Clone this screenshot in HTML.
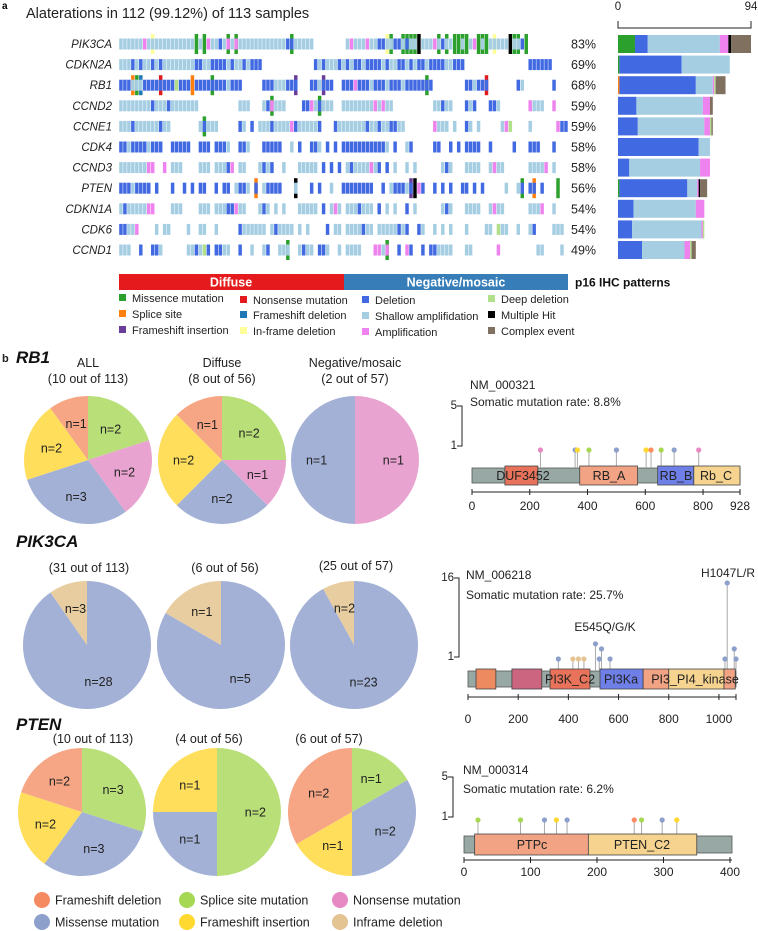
<!DOCTYPE html>
<html><head><meta charset="utf-8">
<style>
html,body{margin:0;padding:0;background:#fff;}
svg{display:block;font-family:"Liberation Sans",Arial,sans-serif;}
</style></head>
<body>
<svg id="fig" width="758" height="931" viewBox="0 0 758 931" xmlns="http://www.w3.org/2000/svg">
<text x="2" y="9" font-size="10" font-weight="bold">a</text>
<text x="26" y="18" font-size="14.5" fill="#222">Alaterations in 112 (99.12%) of 113 samples</text>
<g id="onco"></g>
<g id="bars"></g>
<g id="pies"></g>
<g id="lolli"></g>
</svg>
<script>
// ---------- Oncoprint data ----------
const genes = ['PIK3CA','CDKN2A','RB1','CCND2','CCNE1','CDK4','CCND3','PTEN','CDKN1A','CDK6','CCND1'];
const pcts = ['83%','69%','68%','59%','59%','58%','58%','56%','54%','54%','49%'];
const baseRows = [
 ["ssssssasss","sssssssss.","s.assdsasa","ssssssssss","ssddsssss.",".......sas","ssassddssd","dsdss.sssa","sdss..s.sa",".s.sssss.s","sd........","..."],
 ["sssdsdssds","dssssssssd","dssddddsds","sdsddd....",".........d","sdsssdsdsd","dsddddsdss","ddsdsddsdd","ddssddd...","..........","...dddddd.","..."],
 ["dddsssdddd","ddddgddd.d","dddddddsdd","d.....ddds","ssddd...dd","sddd..ddda","dddsdddsdd","dsddddddd.",".......dds","ddd.......","ds.......d","..."],
 ["ssssssssds","ssdsssssss","..........","sss...sdas","ss....ddas","dsss..ssss","ssssasass.",".........s","sdss...dsd","...dds....","...asss..a","..."],
 ["sssdssssss","dss.......","sdsss.....","ds.d.sssds","sssadsssss","d...dsssss","ssdssdssdd","ss.......a","sss.s..ds.","s.....sag.","...s......","add"],
 ["ddsddddsdd","d..ddddd..","ddd.ddds..","dds...dddd","d..s.d..dd","s.d.d.dddd","ddddddds.d","..sd.....d","d..d.d.ddd","d..d.....d","...ddd...d","..."],
 ["sssssssaa.",".a.sss....","sss.sssda.","ss...sdsd.",".s...sssss",".d.d.d.sds","sssasd.d.s","..s.s.....",".sds...sss","s..sass...","...ssssa.s","..."],
 ["dddsdddd.d","...d..d.d.","dd..d.dd.s","dds.d.sddd","d...s...d.","d..s..dddd","dddd..d.sd","ddsd.ad..d",".d.d..dd.d",".d.....s..","sd.dd.d...","..."],
 ["sdsssssaa.","...sss....","sss.sssdda","ss...sds.s",".s...sssss",".d.sas.sss","dsss.d.s.s","..d.s.....",".sds...sss","s..sass...","...sssa..s","..."],
 ["ddssa....s",".ss....s..","ss..s.....","dssssss.sd","ssss.s.s..","..d.ss.sss","sdss.sssss","dsd..ds..s",".s.s...s..","..ss.gss..","s..sd....s","ss."],
 ["sss..d..dd","s......ssd","sgd.ddss..","d..s..sd..","sss..sdss.","dds..s.sss","s...aasa..","d.ad..d.dd","ssss...ss.",".....a....",".....ss...",".s."]
];
const mutRows = [
 "8Y 19M 21M 27M 29M 43M 67Y 68M 71M 72M 73M 74M 75X 80M 82M 84M 85M 86M 87M 90M 91M 92M 94Y 98X 99M 100M 102M",
 "",
 "3S 4M 5F 10N 18S 23M 44I 51I 77M 92N",
 "38M 50M",
 "21M",
 "",
 "",
 "34S 44X 73I 74X 101M 104S 110M",
 "",
 "",
 "42M 67M"
];
// right bar chart counts per row: [missense, splice, deletion, shallow, amp, deep, multi, complex]
const barMissense = [12,1,0,0,0,0,0,1,0,0,0];
const barSplice   = [0,0,1,0,0,0,0,0,0,0,0];
const barDeletion = [9,44,54,13,14,57,8,48,11,10,17];
const barShallow  = [51,34,12,47,47,8,50,7,44,49,30];
const barAmp      = [6,0,1,5,4,0,7,1,6,1,4];
const barDeep     = [0,0,1,0,1,0,0,0,0,1,1];
const barMulti    = [2,0,0,0,0,0,0,1,0,0,0];
const barComplex  = [14,0,7,2,1,0,0,5,0,0,3];
const barMax = 94;

// ---------- Pie data ----------
const pieCats = ['Splice site mutation','Nonsense mutation','Missense mutation','Frameshift insertion','Frameshift deletion','Inframe deletion'];
const rb1All = [2,2,3,2,1,0];
const rb1Dif = [2,1,2,2,1,0];
const rb1Neg = [0,1,1,0,0,0];
const pikAll = [0,0,28,0,0,3];
const pikDif = [0,0,5,0,0,1];
const pikNeg = [0,0,23,0,0,2];
const ptenAll = [3,0,3,2,2,0];
const ptenDif = [2,0,1,1,0,0];
const ptenNeg = [1,0,2,1,2,0];

// ---------- Lollipop data ----------
const rb1Pos = [237,357,365,405,500,603,620,655,700,785];
const rb1Cnt = [1,1,1,1,1,1,1,1,1,1];
const rb1Type = ['nonsense','missense','fsins','splice','missense','fsins','fsdel','splice','missense','nonsense'];
const pikPos = [360,418,440,462,508,523,532,566,1024,1033,1061,1068];
const pikCnt = [1,1,1,1,4,1,3,1,1,16,3,1];
const pikType = ['missense','inframe','inframe','inframe','missense','missense','missense','missense','missense','missense','missense','missense'];
const ptenPos = [21,85,121,139,155,256,267,298,320];
const ptenCnt = [1,1,1,1,1,1,1,1,1];
const ptenType = ['splice','splice','missense','fsins','missense','fsdel','splice','missense','fsins'];

const NS='http://www.w3.org/2000/svg';
function mk(parent,tag,attrs){const e=document.createElementNS(NS,tag);for(const k in attrs)e.setAttribute(k,attrs[k]);parent.appendChild(e);return e;}

const baseCol={s:'#a6cee3',d:'#4169e1',a:'#ee82ee',g:'#b2df8a'};
const mutCol={M:'#2ca02c',S:'#ff7f0e',I:'#6a3d9a',N:'#e31a1c',F:'#1f78b4',Y:'#ffff99',X:'#000000'};

// ---------- draw oncoprint ----------
const onco=document.getElementById('onco');
const x0=119, cw=449/113, rowY0=44, rowStep=20.6;
function colX(i){return x0+i*cw;}
function rowY(r){return rowY0+r*rowStep;}
genes.forEach((g,r)=>{
  const cy=rowY(r);
  const lab=mk(onco,'text',{x:112,y:cy+4,'font-size':11.5,'font-style':'italic','text-anchor':'end',fill:'#222'});
  lab.textContent=g;
  
  
  let base=(baseRows[r].join('')+'.'.repeat(113)).slice(0,113);
  const muts={};
  mutRows[r].split(' ').filter(t=>t).forEach(t=>{muts[parseInt(t)]=t.slice(-1);});
  for(let i=0;i<113;i++){
    const m=muts[i];
    if(m){
      const el=mk(onco,'rect',{x:colX(i)+0.2,y:cy-10,width:cw-0.5,height:20,fill:mutCol[m]});
      
      
    }
    const b=base[i];
    if(baseCol[b]){
      const el=mk(onco,'rect',{x:colX(i)+0.2,y:cy-5.5,width:cw-0.5,height:11,fill:baseCol[b]});
      
      
    }
  }
  const p=mk(onco,'text',{x:571,y:cy+4.5,'font-size':12.5,fill:'#222'});
  p.textContent=pcts[r];
  
  
});
// p16 bar
(function(){
  const d=mk(onco,'rect',{x:119,y:274,width:225,height:16,fill:'#e41a1c'});
  
  
  const n=mk(onco,'rect',{x:344,y:274,width:224,height:16,fill:'#377eb8'});
  
  
  const t1=mk(onco,'text',{x:231,y:286.5,'font-size':12.5,'font-weight':'bold',fill:'#fff','text-anchor':'middle'});
  t1.textContent='Diffuse';
  
  
  const t2=mk(onco,'text',{x:456,y:286.5,'font-size':12.5,'font-weight':'bold',fill:'#fff','text-anchor':'middle'});
  t2.textContent='Negative/mosaic';
  
  
  const t3=mk(onco,'text',{x:575,y:286.5,'font-size':12,'font-weight':'bold',fill:'#111'});
  t3.textContent='p16 IHC patterns';
  
  
})();
// oncoprint legend
const legItems=[
 [119,298,'#2ca02c','Missence mutation'],[119,314,'#ff7f0e','Splice site'],[119,330,'#6a3d9a','Frameshift insertion'],
 [240,300,'#e31a1c','Nonsense mutation'],[240,315,'#1f78b4','Frameshift deletion'],[240,331,'#ffff99','In-frame deletion'],
 [362,300,'#4169e1','Deletion'],[362,316,'#a6cee3','Shallow amplifidation'],[362,332,'#ee82ee','Amplification'],
 [488,299,'#b2df8a','Deep deletion'],[488,315,'#000000','Multiple Hit'],[488,331,'#7f7060','Complex event']];
legItems.forEach(it=>{
  const r=mk(onco,'rect',{x:it[0],y:it[1]-4,width:7,height:7,fill:it[2]});
  
  
  const t=mk(onco,'text',{x:it[0]+13,y:it[1]+4,'font-size':11,fill:'#222'});
  t.textContent=it[3];
  
  
});

// ---------- right bar chart ----------
const bars=document.getElementById('bars');
const bx0=618, bx1=751;
function bScale(v){return v*(bx1-bx0)/barMax;}
(function(){
  const ax=mk(bars,'path',{d:`M${bx0} 21 V28 H${bx1} V21`,stroke:'#222','stroke-width':1,fill:'none'});
  
  
  const a=mk(bars,'text',{x:bx0,y:10,'font-size':11.5,'text-anchor':'middle',fill:'#222'});a.textContent='0';
  
  
  const b=mk(bars,'text',{x:bx1,y:10,'font-size':11.5,'text-anchor':'middle',fill:'#222'});b.textContent=String(barMax);
  
  
})();
const segSeries=[[barMissense,'#2ca02c'],[barSplice,'#ff7f0e'],[barDeletion,'#4169e1'],[barShallow,'#a6cee3'],[barAmp,'#ee82ee'],[barDeep,'#b2df8a'],[barMulti,'#000000'],[barComplex,'#7f7060']];
genes.forEach((g,r)=>{
  let acc=0;const cy=rowY(r);
  segSeries.forEach(s=>{
    const v=s[0][r]; if(!v) return;
    const el=mk(bars,'rect',{x:bx0+bScale(acc),y:cy-9,width:bScale(v),height:18,fill:s[1]});
    
    
    acc+=v;
  });
});

// ---------- pies ----------
const pies=document.getElementById('pies');
const pieFill=['#b8df78','#e9a3d0','#a3b1d6','#fede5a','#f6a585','#e8cda0'];
function drawPie(vals,cx,cy,R,name){
  const tot=vals.reduce((a,b)=>a+b,0);let a0=0;
  vals.forEach((v,i)=>{
    if(!v) return;
    const a1=a0+v/tot*2*Math.PI;
    let el;
    if(v===tot){el=mk(pies,'circle',{cx:cx,cy:cy,r:R,fill:pieFill[i]});}
    else{
      const x1=cx+R*Math.sin(a0),y1=cy-R*Math.cos(a0),x2=cx+R*Math.sin(a1),y2=cy-R*Math.cos(a1);
      el=mk(pies,'path',{d:`M${cx} ${cy} L${x1} ${y1} A${R} ${R} 0 ${a1-a0>Math.PI?1:0} 1 ${x2} ${y2} Z`,fill:pieFill[i]});
    }
    
    
    const am=(a0+a1)/2, lr=R*0.6;
    const t=mk(pies,'text',{x:cx+lr*Math.sin(am),y:cy-lr*Math.cos(am)+4.5,'font-size':12.5,'text-anchor':'middle',fill:'#222'});
    t.textContent='n='+v;
    
    
    a0=a1;
  });
}
function txt(parent,x,y,s,size,extra,name){
  const t=mk(parent,'text',Object.assign({x:x,y:y,'font-size':size,fill:'#222'},extra||{}));
  t.textContent=s;
  
  
  return t;
}
txt(pies,2,362,'b',11,{'font-weight':'bold'},'panel-b-label');
txt(pies,16,363,'RB1',17,{'font-weight':'bold','font-style':'italic',fill:'#111'},'rb1-title');
txt(pies,88,367,'ALL',12.5,{'text-anchor':'middle'},'rb1-all-title');
txt(pies,88,383,'(10 out of 113)',12.5,{'text-anchor':'middle'},'rb1-all-count');
txt(pies,222,367,'Diffuse',12.5,{'text-anchor':'middle'},'rb1-diffuse-title');
txt(pies,222,383,'(8 out of 56)',12.5,{'text-anchor':'middle'},'rb1-diffuse-count');
txt(pies,355,367,'Negative/mosaic',12.5,{'text-anchor':'middle'},'rb1-negative-title');
txt(pies,355,383,'(2 out of 57)',12.5,{'text-anchor':'middle'},'rb1-negative-count');
drawPie(rb1All,88,460,64,'rb1-all-pie');
drawPie(rb1Dif,222,460,64,'rb1-diffuse-pie');
drawPie(rb1Neg,355,460,64,'rb1-negative-pie');
txt(pies,16,547,'PIK3CA',17,{'font-weight':'bold','font-style':'italic',fill:'#111'},'pik3ca-title');
txt(pies,89,572,'(31 out of 113)',12.5,{'text-anchor':'middle'},'pik3ca-all-count');
txt(pies,225,572,'(6 out of 56)',12.5,{'text-anchor':'middle'},'pik3ca-diffuse-count');
txt(pies,356,570,'(25 out of 57)',12.5,{'text-anchor':'middle'},'pik3ca-negative-count');
drawPie(pikAll,87,645,64,'pik3ca-all-pie');
drawPie(pikDif,221,645,64,'pik3ca-diffuse-pie');
drawPie(pikNeg,354,645,64,'pik3ca-negative-pie');
txt(pies,16,730,'PTEN',17,{'font-weight':'bold','font-style':'italic',fill:'#111'},'pten-title');
txt(pies,93,743,'(10 out of 113)',12.5,{'text-anchor':'middle'},'pten-all-count');
txt(pies,209,743,'(4 out of 56)',12.5,{'text-anchor':'middle'},'pten-diffuse-count');
txt(pies,329,743,'(6 out of 57)',12.5,{'text-anchor':'middle'},'pten-negative-count');
drawPie(ptenAll,82,812,64,'pten-all-pie');
drawPie(ptenDif,217,812,64,'pten-diffuse-pie');
drawPie(ptenNeg,352,812,64,'pten-negative-pie');
const pieLeg=[[42,900,'#f58a60','Frameshift deletion'],[187,900,'#a6d854','Splice site mutation'],[340,900,'#e78ac3','Nonsense mutation'],
 [42,922,'#8da0cb','Missense mutation'],[187,922,'#ffd92f','Frameshift insertion'],[340,922,'#e5c494','Inframe deletion']];
pieLeg.forEach(l=>{
  const c=mk(pies,'circle',{cx:l[0],cy:l[1],r:8,fill:l[2]});
  
  
  txt(pies,l[0]+13,l[1]+4.5,l[3],12.5,{},'pie-legend-entry');
});

// ---------- lollipops ----------
const lol=document.getElementById('lolli');
const lolCol={missense:'#8da0cb',nonsense:'#e78ac3',fsins:'#ffd92f',fsdel:'#fc8d62',splice:'#a6d854',inframe:'#e5c494'};
function drawLolli(cfg){
  const sx=v=>cfg.x0+(v/cfg.len)*(cfg.x1-cfg.x0);
  const sy=c=>cfg.y1-(c-1)*cfg.yPer;
  const g=mk(lol,'g',{});
  
  
  txt(g,cfg.tx,cfg.ty1,cfg.nm,12,{},cfg.name+'-transcript');
  txt(g,cfg.tx,cfg.ty2,cfg.rate,12,{},cfg.name+'-mutation-rate');
  // y axis
  const ya=mk(g,'path',{d:`M${cfg.ax-5} ${cfg.axTop} H${cfg.ax} V${cfg.axBot} H${cfg.ax-5}`,stroke:'#222',fill:'none','stroke-width':1});
  
  
  txt(g,cfg.ax-5,cfg.axTop+3,cfg.yMaxLab,11.5,{'text-anchor':'end'},cfg.name+'-y-max');
  txt(g,cfg.ax-5,cfg.axBot+3,'1',11.5,{'text-anchor':'end'},cfg.name+'-y-min');
  // backbone
  const bb=mk(g,'rect',{x:cfg.x0,y:cfg.by,width:cfg.x1-cfg.x0,height:cfg.bh,fill:'#98a8a4',stroke:'#555','stroke-width':0.8});
  
  
  // lollipops
  cfg.pos.forEach((p,i)=>{
    const x=sx(p),y=sy(cfg.cnt[i]);
    const st=mk(g,'line',{x1:x,y1:y,x2:x,y2:cfg.by,stroke:'#aaa','stroke-width':1});
    
    
  });
  cfg.doms.forEach(d=>{
    const r=mk(g,'rect',{x:sx(d[0]),y:cfg.by-2,width:sx(d[1])-sx(d[0]),height:cfg.bh+4,fill:d[2],stroke:'#444','stroke-width':0.8});
    
    
  });
  cfg.labs.forEach(l=>txt(g,l[0],cfg.by+cfg.bh/2+4.5,l[1],12.5,{'text-anchor':'middle'},cfg.name+'-domain-label'));
  cfg.pos.forEach((p,i)=>{
    const c=mk(g,'circle',{cx:sx(p),cy:sy(cfg.cnt[i]),r:2.6,fill:lolCol[cfg.type[i]]});
    
    
  });
  // x axis
  const xa=mk(g,'line',{x1:cfg.x0,y1:cfg.xay,x2:cfg.x1,y2:cfg.xay,stroke:'#222','stroke-width':1});
  
  
  cfg.ticks.forEach(t=>{
    const tk=mk(g,'line',{x1:sx(t),y1:cfg.xay-3,x2:sx(t),y2:cfg.xay+3,stroke:'#222','stroke-width':1});
    
    
  });
  cfg.tickLabs.forEach(t=>txt(g,sx(t),cfg.xay+cfg.tly,String(t),12,{'text-anchor':'middle'},cfg.name+'-x-tick-label'));
}
drawLolli({name:'rb1-lollipop',nm:'NM_000321',rate:'Somatic mutation rate: 8.8%',tx:470,ty1:389,ty2:406,
  ax:462,axTop:406,axBot:446,yMaxLab:'5',y1:450,yPer:10,
  x0:472,x1:740,len:928,by:468,bh:15,xay:492,tly:18,
  doms:[[114,228,'#e8735a'],[373,573,'#f2a384'],[643,768,'#6f7fe8'],[768,928,'#f6d48f']],
  labs:[[523,'DUF3452'],[609,'RB_A'],[676,'RB_B'],[716,'Rb_C']],
  pos:rb1Pos,cnt:rb1Cnt,type:rb1Type,ticks:[0,200,400,600,800,928],tickLabs:[0,200,400,600,800,928]});
drawLolli({name:'pik3ca-lollipop',nm:'NM_006218',rate:'Somatic mutation rate: 25.7%',tx:466,ty1:579,ty2:599,
  ax:459,axTop:578,axBot:657,yMaxLab:'16',y1:659,yPer:5.07,
  x0:468,x1:736,len:1068,by:671,bh:16,xay:697,tly:26,
  doms:[[32,111,'#ee8a60'],[175,294,'#cc6680'],[327,486,'#e8735a'],[526,698,'#6f7fe8'],[698,800,'#f2a384'],[800,1020,'#f6d48f'],[1020,1065,'#f2a384']],
  labs:[[570,'PI3K_C2'],[621,'PI3Ka'],[695,'PI3_PI4_kinase']],
  pos:pikPos,cnt:pikCnt,type:pikType,ticks:[0,200,400,600,800,1000,1068],tickLabs:[0,200,400,600,800,1000]});
txt(lol,605,631,'E545Q/G/K',12,{'text-anchor':'middle'},'pik3ca-hotspot-e545');
txt(lol,728,577,'H1047L/R',12,{'text-anchor':'middle'},'pik3ca-hotspot-h1047');
drawLolli({name:'pten-lollipop',nm:'NM_000314',rate:'Somatic mutation rate: 6.2%',tx:463,ty1:774,ty2:793,
  ax:453,axTop:777,axBot:817,yMaxLab:'5',y1:820,yPer:10,
  x0:464,x1:732,len:403,by:836,bh:17,xay:860,tly:16,
  doms:[[16,187,'#f2a384'],[187,350,'#f6d48f']],
  labs:[[532,'PTPc'],[642,'PTEN_C2']],
  pos:ptenPos,cnt:ptenCnt,type:ptenType,ticks:[0,100,200,300,400],tickLabs:[0,100,200,300,400]});
</script>
</body></html>
